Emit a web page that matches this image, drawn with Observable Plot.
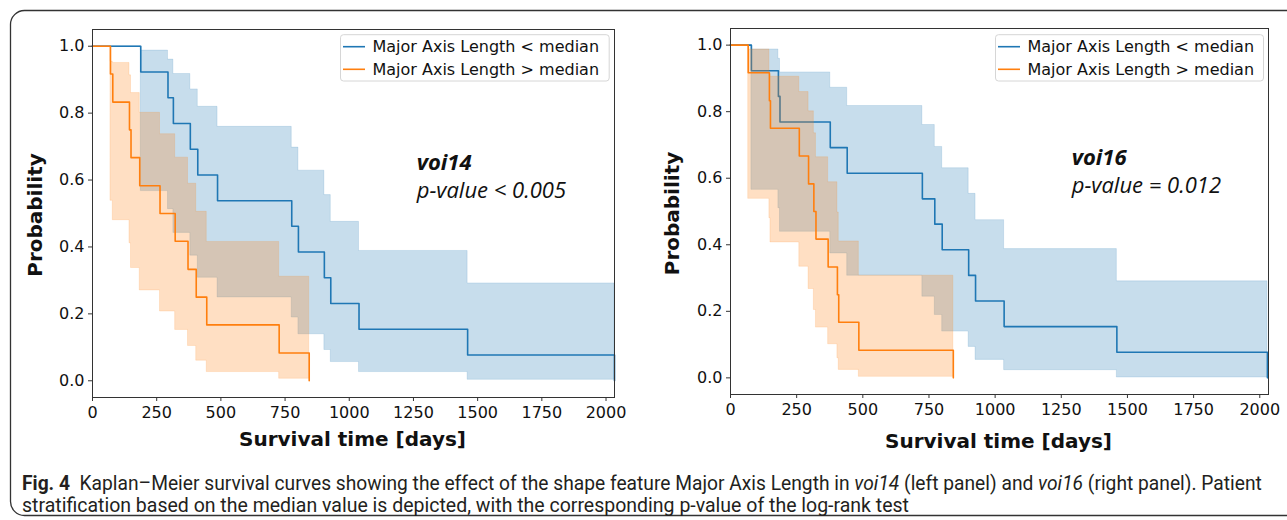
<!DOCTYPE html>
<html><head><meta charset="utf-8">
<script src="https://cdn.jsdelivr.net/npm/d3@7"></script>
<script src="https://cdn.jsdelivr.net/npm/@observablehq/plot@0.6"></script>
<style>
html,body{margin:0;padding:0;background:#fff;}
#fig{position:relative;width:1287px;height:520px;overflow:hidden;background:#fff;}
.panel{position:absolute;top:0;}
.panel svg{background:transparent !important;max-width:none !important;}
#overlay{position:absolute;left:0;top:0;pointer-events:none;}
</style></head><body><div id="fig"></div>
<script>
// ---------- data ----------
const groups = ["Major Axis Length < median", "Major Axis Length > median"];
const groupColors = ["#1f77b4", "#ff7f0e"];
const xTicks = [0, 250, 500, 750, 1000, 1250, 1500, 1750, 2000];
const yTicks = [0, 0.2, 0.4, 0.6, 0.8, 1.0];
const xMax = 2033;

// voi14, Major Axis Length < median
const voi14LowTime  = [0, 188, 294, 315, 381, 410, 487, 776, 802, 903, 928, 1038, 1461, 2033];
const voi14LowSurv  = [1, 0.923, 0.846, 0.769, 0.692, 0.615, 0.538, 0.462, 0.385, 0.308, 0.231, 0.154, 0.077, 0];
const voi14LowLower = [1, 0.567, 0.513, 0.442, 0.374, 0.308, 0.249, 0.189, 0.139, 0.092, 0.056, 0.026, 0.003, 0.003];
const voi14LowUpper = [1, 0.987, 0.960, 0.917, 0.871, 0.819, 0.759, 0.697, 0.628, 0.555, 0.475, 0.388, 0.291, 0.291];
// voi14, Major Axis Length > median
const voi14HighTime  = [0, 70, 79, 144, 150, 184, 263, 322, 372, 404, 445, 727, 844];
const voi14HighSurv  = [1, 0.917, 0.833, 0.750, 0.667, 0.583, 0.500, 0.417, 0.333, 0.250, 0.167, 0.083, 0];
const voi14HighLower = [1, 0.538, 0.480, 0.411, 0.337, 0.270, 0.207, 0.152, 0.104, 0.060, 0.026, 0.006, 0.006];
const voi14HighUpper = [1, 0.954, 0.950, 0.913, 0.860, 0.801, 0.737, 0.667, 0.589, 0.505, 0.415, 0.311, 0.311];

// voi16, Major Axis Length < median
const voi16LowTime  = [0, 79, 181, 187, 377, 441, 725, 772, 800, 900, 926, 1034, 1460, 2029];
const voi16LowSurv  = [1, 0.923, 0.846, 0.769, 0.692, 0.615, 0.538, 0.462, 0.385, 0.308, 0.231, 0.154, 0.077, 0];
const voi16LowLower = [1, 0.565, 0.510, 0.439, 0.374, 0.307, 0.244, 0.189, 0.139, 0.093, 0.054, 0.023, 0.001, 0.001];
const voi16LowUpper = [1, 0.987, 0.959, 0.918, 0.872, 0.817, 0.760, 0.694, 0.630, 0.553, 0.474, 0.387, 0.290, 0.290];
// voi16, Major Axis Length > median
const voi16HighTime  = [0, 67, 147, 151, 260, 295, 315, 323, 369, 404, 409, 485, 842];
const voi16HighSurv  = [1, 0.917, 0.833, 0.750, 0.667, 0.583, 0.500, 0.417, 0.333, 0.250, 0.167, 0.083, 0];
const voi16HighLower = [1, 0.538, 0.480, 0.407, 0.334, 0.267, 0.204, 0.151, 0.101, 0.059, 0.024, 0.003, 0.003];
const voi16HighUpper = [1, 0.987, 0.912, 0.905, 0.859, 0.801, 0.735, 0.663, 0.588, 0.497, 0.410, 0.307, 0.307];

const panelNames = ["voi14", "voi16"];
const pValues = ["p-value < 0.005", "p-value = 0.012"];
const xLabel = "Survival time [days]";
const yLabel = "Probability";
const captionBold = "Fig. 4";
const captionLine1 = ["  Kaplan\u2013Meier survival curves showing the effect of the shape feature Major Axis Length in ", "voi14", " (left panel) and ", "voi16", " (right panel). Patient"];
const captionLine2 = "stratification based on the median value is depicted, with the corresponding p-value of the log-rank test";

// ---------- build ----------
function rows(t, s, lo, hi) { return t.map((d, i) => ({t: d, s: s[i], lo: lo[i], hi: hi[i]})); }

function panel(low, high, m, w, h) {
  const marks = [];
  [low, high].forEach((g, k) => {
    marks.push(Plot.areaY(g, {x: "t", y1: "lo", y2: "hi", curve: "step-after",
      fill: groupColors[k], fillOpacity: 0.25, stroke: groupColors[k], strokeOpacity: 0.15, strokeWidth: 1}));
    marks.push(Plot.lineY(g, {x: "t", y: "s", curve: "step-after", stroke: groupColors[k], strokeWidth: 1.6}));
  });
  marks.push(Plot.frame({stroke: "#333", strokeWidth: 1}));
  marks.push(Plot.axisX(xTicks, {tickSize: 4, tickPadding: 5, stroke: "#333", tickFormat: d => String(d), label: null}));
  marks.push(Plot.axisY(yTicks, {tickSize: 4, tickPadding: 4, stroke: "#333", tickFormat: d3.format(".1f"), label: null}));
  return Plot.plot({
    width: w, height: h,
    marginLeft: m[0], marginTop: m[1], marginRight: m[2], marginBottom: m[3],
    x: {domain: [0, xMax]},
    y: {domain: [-0.05, 1.05]},
    style: {fontFamily: "DejaVu Sans", fontSize: "16px", color: "#111", background: "transparent"},
    marks
  });
}

const fig = document.getElementById("fig");
const p1 = document.createElement("div"); p1.className = "panel"; p1.style.left = "0px";
p1.appendChild(panel(rows(voi14LowTime, voi14LowSurv, voi14LowLower, voi14LowUpper),
                     rows(voi14HighTime, voi14HighSurv, voi14HighLower, voi14HighUpper),
                     [92, 29, 26, 63], 640, 460));
const p2 = document.createElement("div"); p2.className = "panel"; p2.style.left = "640px";
p2.appendChild(panel(rows(voi16LowTime, voi16LowSurv, voi16LowLower, voi16LowUpper),
                     rows(voi16HighTime, voi16HighSurv, voi16HighLower, voi16HighUpper),
                     [90, 28, 19, 66], 647, 460));
fig.appendChild(p1); fig.appendChild(p2);

// ---------- overlay: border, labels, legends, notes, caption ----------
const svg = d3.select(fig).append("svg").attr("id", "overlay").attr("width", 1287).attr("height", 520);
svg.append("rect").attr("x", 10.5).attr("y", 10.5).attr("width", 1320).attr("height", 505)
  .attr("rx", 14).attr("fill", "none").attr("stroke", "#333").attr("stroke-width", 1.3);

const P = [
  {xl: 352.5, yl: 446, ylx: 42, yly: 215, leg: [340, 608.7], note: [416.7, 170, 197.5]},
  {xl: 998.5, yl: 448, ylx: 679, yly: 213.5, leg: [995, 1263], note: [1071.7, 164.5, 193]}
];
P.forEach((p, i) => {
  svg.append("text").attr("x", p.xl).attr("y", p.yl).attr("text-anchor", "middle")
    .attr("font-family", "DejaVu Sans").attr("font-weight", "bold").attr("font-size", 20).attr("fill", "#111").text(xLabel);
  svg.append("text").attr("transform", `translate(${p.ylx},${p.yly}) rotate(-90)`).attr("text-anchor", "middle")
    .attr("font-family", "DejaVu Sans").attr("font-weight", "bold").attr("font-size", 20).attr("fill", "#111").text(yLabel);
  const [lx0, lx1] = p.leg;
  svg.append("rect").attr("x", lx0 + 0.5).attr("y", 34.7).attr("width", lx1 - lx0).attr("height", 46.3)
    .attr("rx", 3).attr("fill", "white").attr("fill-opacity", 0.8).attr("stroke", "#d6d6d6");
  groups.forEach((g, k) => {
    const y = 46.7 + k * 22.6;
    svg.append("line").attr("x1", lx0 + 3).attr("x2", lx0 + 25).attr("y1", y).attr("y2", y)
      .attr("stroke", groupColors[k]).attr("stroke-width", 1.6);
    svg.append("text").attr("x", lx0 + 32.5).attr("y", y + 5.5).attr("font-family", "DejaVu Sans")
      .attr("font-size", 16).attr("fill", "#111").text(g);
  });
  svg.append("text").attr("x", p.note[0]).attr("y", p.note[1]).attr("font-family", "Open Sans")
    .attr("font-style", "italic").attr("font-weight", "bold").attr("font-size", 22).attr("fill", "#111").text(panelNames[i]);
  svg.append("text").attr("x", p.note[0]).attr("y", p.note[2]).attr("font-family", "Open Sans")
    .attr("font-style", "italic").attr("font-size", 22).attr("fill", "#111").text(pValues[i]);
});

function captionLine(y, parts, target) {
  const t = svg.append("text").attr("font-family", "Roboto").attr("font-size", 20).attr("fill", "#231f20");
  parts.forEach(([txt, st]) => {
    const s = t.append("tspan").text(txt);
    if (st === "b") s.attr("font-weight", "bold");
    if (st === "i") s.attr("font-style", "italic");
  });
  t.attr("xml:space", "preserve").style("white-space", "pre");
  const w = t.node().getComputedTextLength();
  t.attr("transform", `translate(22,${y}) scale(${target / w},1)`);
}
captionLine(490, [[captionBold, "b"], [captionLine1[0], ""], [captionLine1[1], "i"], [captionLine1[2], ""], [captionLine1[3], "i"], [captionLine1[4], ""]], 1240);
captionLine(512, [[captionLine2, ""]], 887);
</script></body></html>
